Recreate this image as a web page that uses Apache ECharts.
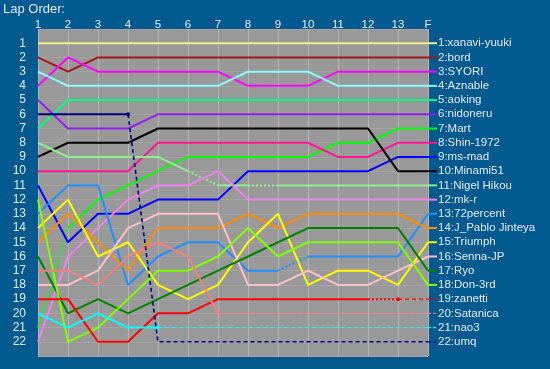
<!DOCTYPE html>
<html>
<head>
<meta charset="utf-8">
<script src="https://cdn.jsdelivr.net/npm/echarts@6/dist/echarts.min.js"></script>
<style>
html,body{margin:0;padding:0;background:#00598f;}
#chart{width:550px;height:369px;}
</style>
</head>
<body>
<div id="chart"></div>
<script>
// ---- data ----
const lapLabels = ['1','2','3','4','5','6','7','8','9','10','11','12','13','F'];
const rowLabels = ['1','2','3','4','5','6','7','8','9','10','11','12','13','14','15','16','17','18','19','20','21','22'];
const driverNames = ['xanavi-yuuki','bord','SYORI','Aznable','aoking','nidoneru','Mart','Shin-1972','ms-mad','Minami51','Nigel Hikou','mk-r','72percent','J_Pablo Jinteya','Triumph','Senna-JP','Ryo','Don-3rd','zanetti','Satanica','nao3','umq'];

const posXanavi   = [1,1,1,1,1,1,1,1,1,1,1,1,1,1];
const posBord     = [2,3,2,2,2,2,2,2,2,2,2,2,2,2];
const posSyori    = [4,2,3,3,3,3,3,4,4,4,3,3,3,3];
const posAznable  = [3,4,4,4,4,4,4,3,3,3,4,4,4,4];
const posAoking   = [7,5,5,5,5,5,5,5,5,5,5,5,5,5];
const posNidoneru = [5,7,7,7,6,6,6,6,6,6,6,6,6,6];
const posMart     = [21,14,12,11,10,9,9,9,9,9,8,8,7,7];
const posShin     = [10,10,10,10,8,8,8,8,8,8,9,9,8,8];
const posMsmad    = [11,15,13,13,12,12,12,10,10,10,10,10,9,9];
const posMinami   = [9,8,8,8,7,7,7,7,7,7,7,7,10,10];
const posNigel    = [8,9,9,9,9,10,11,11,11,11,11,11,11,11];
const posMkr      = [22,16,14,12,11,11,10,12,12,12,12,12,12,12];
const pos72       = [13,11,11,18,16,15,15,17,17,16,16,16,16,13];
const posJPablo   = [15,13,15,17,14,14,14,13,14,13,13,13,13,14];
const posTriumph  = [14,12,16,15,18,19,18,15,13,18,17,17,18,15];
const posSenna    = [18,18,17,14,13,13,13,18,18,17,18,18,17,16];
const posRyo      = [16,20,19,20,19,18,17,16,15,14,14,14,14,17];
const posDon      = [12,22,21,19,17,17,16,14,16,15,15,15,15,18];
const posZanetti  = [19,19,22,22,20,20,19,19,19,19,19,19,19,19];
const posSatanica = [17,17,18,16,15,16,20,20,20,20,20,20,20,20];
const posNao3     = [20,21,20,21,21,21,21,21,21,21,21,21,21,21];
const posUmq      = [6,6,6,6,22,22,22,22,22,22,22,22,22,22];

const positions = [posXanavi,posBord,posSyori,posAznable,posAoking,posNidoneru,posMart,posShin,posMsmad,posMinami,posNigel,posMkr,pos72,posJPablo,posTriumph,posSenna,posRyo,posDon,posZanetti,posSatanica,posNao3,posUmq];

// segment kinds between consecutive laps: s = running, o = pit/dotted, d = retired
const segKinds = {
  'Mart':        'osssssssssss' + 's',
  'Nigel Hikou': 'sssssosossss' + 's',
  '72percent':   'ssssssssosss' + 's',
  'zanetti':     'sssssssssss' + 'od',
  'Satanica':    'ssssss' + 'ddddddd',
  'nao3':        'ssss' + 'ddddddddd',
  'umq':         'sss' + 'dddddddddd'
};

// ---- styles ----
const colors = ['#f0f090','#a01818','#ff00ff','#88ffff','#00ff80','#9020f0','#00ff00','#ff1493','#0000ff','#000000','#90ee90','#ee82ee','#1e90ff','#ff8c00','#ffff00','#ffc0cb','#008000','#7fff00','#ff0000','#f08080','#00ffff','#000080'];
const txtColor = '#e6eaee';
const FONT = 'Liberation Sans';

const series = [];
driverNames.forEach((name, i) => {
  const pos = positions[i];
  const kinds = segKinds[name] || 'sssssssssssss';
  let a = 0;
  while (a < kinds.length) {
    let b = a;
    while (b + 1 < kinds.length && kinds[b + 1] === kinds[a]) b++;
    const kind = kinds[a];
    const data = [];
    for (let k = a; k <= b + 1; k++) data.push([k + 1, pos[k]]);
    const isLast = (b + 1 === pos.length - 1);
    const s = {
      type: 'line',
      name: name,
      data: data,
      silent: true,
      symbol: 'circle',
      showSymbol: kind === 'd',
      symbolSize: (v, p) => (kind === 'd' && p.dataIndex === 0) ? 4 : 0,
      itemStyle: { color: colors[i] },
      lineStyle: {
        color: colors[i],
        width: kind === 'd' ? (name === 'umq' ? 1.6 : 1.1) : 2,
        type: kind === 's' ? 'solid' : (kind === 'o' ? [2, 2] : [4, 3])
      },
      z: 2
    };
    if (isLast) {
      const lead = kind === 'd' ? '{d|}{g|}{d|}{h|}' : '{l|}';
      s.endLabel = {
        show: true,
        distance: 0,
        formatter: lead + '{t|' + (i + 1) + ':' + name + '}',
        rich: {
          l: { width: 9, height: 2, backgroundColor: colors[i] },
          d: { width: 3, height: 1.2, backgroundColor: colors[i] },
          g: { width: 2, height: 1 },
          h: { width: 1, height: 1 },
          t: { color: txtColor, fontSize: 11.5, fontFamily: FONT, padding: [0, 0, 0, 1] }
        }
      };
    }
    series.push(s);
    a = b + 1;
  }
});

const chart = echarts.init(document.getElementById('chart'));
chart.setOption({
  backgroundColor: '#00598f',
  animation: false,
  title: {
    text: 'Lap Order:',
    left: 3, top: 3, padding: 0,
    textStyle: { color: txtColor, fontSize: 13, fontWeight: 'normal', fontFamily: FONT }
  },
  grid: {
    left: 38, right: 122, top: 29, bottom: 13,
    show: true, backgroundColor: '#999999', borderWidth: 0
  },
  xAxis: {
    type: 'value', position: 'top', min: 1, max: 14, interval: 1,
    axisLine: { show: false }, axisTick: { show: false },
    axisLabel: {
      color: txtColor, fontSize: 11.5, fontFamily: FONT, margin: -2,
      formatter: v => lapLabels[v - 1] || ''
    },
    splitLine: { show: true, lineStyle: { color: '#b4b4b4', width: 1 } }
  },
  yAxis: {
    type: 'value', inverse: true, min: 0, max: 23, interval: 1,
    axisLine: { show: false }, axisTick: { show: false },
    axisLabel: {
      color: txtColor, fontSize: 12, fontFamily: FONT, margin: 12,
      formatter: v => (v >= 1 && v <= 22) ? rowLabels[v - 1] : ''
    },
    splitLine: { show: true, lineStyle: { color: '#a3a3a3', width: 1 } }
  },
  series: series
});
</script>
</body>
</html>
